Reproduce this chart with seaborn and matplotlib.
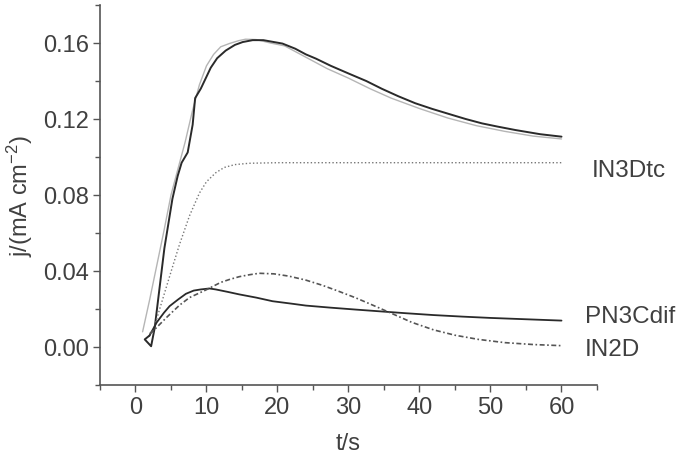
import numpy as np
import pandas as pd
import matplotlib
matplotlib.use("Agg")
import matplotlib.pyplot as plt
import seaborn as sns
from matplotlib.ticker import MultipleLocator

# ---- data ----
exp_t = [1.97, 1.3, 2.2, 2.7, 4.07, 5.2, 5.94, 6.5, 7.35, 8.05, 8.4, 9.2, 10.6, 11.5, 12.7,
         14.0, 15.1, 16.5, 18.0, 19.5, 20.7, 22.5, 24.0, 25.4, 27.5, 30.1, 32.5, 34.7,
         37.0, 39.4, 41.8, 44.1, 46.5, 48.8, 51.0, 53.5, 57.0, 60.0]
exp_j = [0.006, 0.004, 0.0004, 0.010, 0.052, 0.078, 0.090, 0.097, 0.1024, 0.117, 0.131,
         0.136, 0.147, 0.152, 0.156, 0.159, 0.1605, 0.1615, 0.1615, 0.1605, 0.1597, 0.157,
         0.154, 0.1518, 0.148, 0.1438, 0.140, 0.1359, 0.132, 0.1283, 0.1253, 0.1227,
         0.120, 0.1177, 0.116, 0.1142, 0.112, 0.1107]

fit_t = [1.0, 2.0, 3.0, 4.0, 5.0, 6.0, 7.0, 8.0, 9.0, 10.0, 11.0, 12.0, 13.2, 14.5, 15.5,
         17.0, 19.0, 21.0, 24.0, 27.0, 30.0, 33.0, 36.0, 40.0, 44.0, 48.0, 52.0, 56.0, 60.0]
fit_j = [0.008, 0.025, 0.043, 0.061, 0.080, 0.094, 0.108, 0.124, 0.138, 0.148, 0.154,
         0.158, 0.1597, 0.1612, 0.162, 0.1618, 0.160, 0.1585, 0.1525, 0.1465, 0.1415,
         0.136, 0.131, 0.1255, 0.1205, 0.1165, 0.1135, 0.111, 0.1095]

in3_t = [2.4, 3.0, 4.3, 5.2, 6.2, 7.6, 9.0, 10.0, 11.3, 12.5, 14.0, 16.0, 20.0, 30.0, 40.0, 50.0, 60.0]
in3_j = [0.0074, 0.015, 0.031, 0.042, 0.054, 0.069, 0.081, 0.087, 0.0917, 0.0945, 0.096,
         0.0967, 0.097, 0.097, 0.097, 0.097, 0.097]

pn3_t = [1.97, 3.0, 4.0, 4.8, 6.0, 7.1, 8.2, 9.2, 10.4, 11.3, 13.0, 14.6, 17.0, 19.3, 22.0,
         24.0, 27.5, 31.0, 34.3, 38.0, 42.0, 46.0, 50.0, 55.0, 60.0]
pn3_j = [0.006, 0.013, 0.018, 0.0215, 0.025, 0.028, 0.0297, 0.0303, 0.0308, 0.0303, 0.029,
         0.0277, 0.026, 0.0241, 0.0228, 0.0218, 0.0207, 0.0197, 0.0188, 0.0178, 0.0168,
         0.016, 0.0153, 0.0146, 0.0139]

in2_t = [2.0, 2.9, 4.5, 6.2, 7.6, 9.9, 12.0, 13.2, 14.6, 16.0, 17.4, 19.5, 21.6, 24.0, 26.3,
         28.5, 31.0, 33.0, 35.7, 38.9, 42.0, 45.0, 48.3, 52.0, 56.0, 60.0]
in2_j = [0.007, 0.010, 0.016, 0.022, 0.026, 0.030, 0.034, 0.0355, 0.037, 0.038, 0.0388,
         0.0385, 0.0373, 0.0352, 0.0325, 0.0295, 0.0259, 0.0227, 0.0183, 0.0130, 0.0090,
         0.0062, 0.0040, 0.0023, 0.0013, 0.0007]

labels = ["IN3Dtc", "PN3Cdif", "IN2D"]
label_t = [64.2, 63.3, 63.3]
label_j = [0.0929, 0.0162, -0.0012]

# ---- style ----
sns.set_style("ticks")
plt.rcParams["font.family"] = ["Liberation Sans", "DejaVu Sans"]
plt.rcParams["mathtext.fontset"] = "custom"
plt.rcParams["mathtext.rm"] = "Liberation Sans"
plt.rcParams["mathtext.it"] = "Liberation Sans"
TXT = "#404040"
SP = "#555555"

fig = plt.figure(figsize=(6.87, 4.60), dpi=100)
ax = fig.add_axes([100/687, 1-386/460, 497/687, 380/460])

sns.lineplot(x=fit_t, y=fit_j, ax=ax, color="#b5b5b5", lw=1.0, sort=False, estimator=None)
sns.lineplot(x=exp_t, y=exp_j, ax=ax, color="#2a2a2a", lw=1.4, sort=False, estimator=None)
sns.lineplot(x=in3_t, y=in3_j, ax=ax, color="#777777", lw=1.0, sort=False, estimator=None,
             linestyle=(0, (1, 1.6)))
sns.lineplot(x=pn3_t, y=pn3_j, ax=ax, color="#2a2a2a", lw=1.3, sort=False, estimator=None)
sns.lineplot(x=in2_t, y=in2_j, ax=ax, color="#555555", lw=1.2, sort=False, estimator=None,
             linestyle=(0, (3, 1.5, 1, 1.5)))

for s, tx, ty in zip(labels, label_t, label_j):
    ax.text(tx, ty, s, fontsize=17.5, color=TXT, va="center", ha="left", clip_on=False)

ax.set_xlim(-5, 65)
ax.set_ylim(-0.02, 0.18)
ax.set_xticks([0, 10, 20, 30, 40, 50, 60])
ax.set_yticks([0.00, 0.04, 0.08, 0.12, 0.16])
ax.set_yticklabels(["0.00", "0.04", "0.08", "0.12", "0.16"])
ax.xaxis.set_minor_locator(MultipleLocator(5))
ax.yaxis.set_minor_locator(MultipleLocator(0.02))
ax.tick_params(which="major", direction="out", length=5, width=1.0, color=SP,
               labelsize=17, labelcolor=TXT, pad=3)
ax.tick_params(which="minor", direction="out", length=3.5, width=1.0, color=SP)

ax.set_xlabel("t/s", fontsize=17, color=TXT, labelpad=10)
ax.set_ylabel("j/(mA cm$^{-2}$)", fontsize=17, color=TXT, labelpad=6)

sns.despine(ax=ax)
for sp in ["left", "bottom"]:
    ax.spines[sp].set_color(SP)
    ax.spines[sp].set_linewidth(1.2)

fig.savefig("out.png", dpi=100, facecolor="white")
